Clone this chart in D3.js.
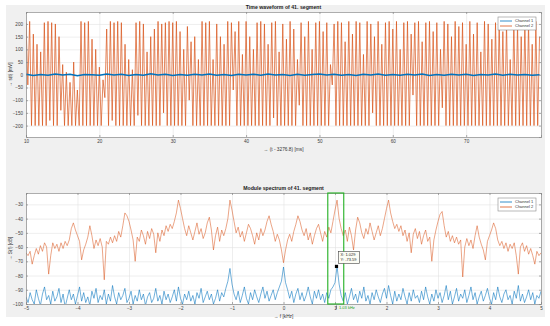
<!DOCTYPE html>
<html>
<head>
<meta charset="utf-8">
<script src="https://cdn.jsdelivr.net/npm/d3@7"></script>
<style>
body { margin: 0; background: #fff; }
svg text { font-family: "Liberation Sans", "DejaVu Sans", Arial, sans-serif; }
</style>
</head>
<body>
<svg id="chart" width="550" height="326"></svg>
<script>
// ---- data ----
const seriesNames = ["Channel 1", "Channel 2"];

// time waveform, sampled every timeStep ms starting at timeStart
const timeStart = 10;
const timeStep = 0.25;
const waveCh2 = [
    205, -40, 210, -200, 160, -200, 120, -200, 90, -200,
    205, -200, 210, -180, 205, -200, 200, -200, 150, -140,
    40, -200, 10, -200, -30, -200, 50, -200, -60, -200,
    210, -200, 205, -200, 210, -200, 140, -200, 100, -200,
    30, -200, -20, -90, 180, -200, 210, -180, 205, -200,
    210, -200, 205, -200, 120, -200, 60, -200, 20, -200,
    205, -160, 210, -200, 200, -200, 90, -200, 150, -200,
    180, -200, 210, -200, 200, -150, 205, -200, 210, -200,
    205, -200, 210, -200, 170, -200, 100, -200, 190, -100,
    130, -200, 150, -200, 60, -200, 210, -200, 205, -200,
    210, -200, 60, -200, 200, -200, 150, -200, 120, -200,
    210, -200, 205, -60, 170, -200, 210, -200, 80, -200,
    210, -200, 150, -200, 100, -200, 205, -200, 210, -200,
    200, -200, 120, -200, 205, -170, 210, -200, 90, -200,
    200, -200, 140, -200, 210, -200, 180, -200, 60, -120,
    205, -200, 150, -200, 210, -200, 100, -200, 205, -200,
    210, -200, 170, -200, 205, -200, 40, -40, 200, -200,
    210, -200, 205, -200, 130, -200, 210, -200, 160, -200,
    210, -200, 205, -200, 80, -200, 210, -200, 200, -150,
    150, -200, 210, -200, 120, -200, 205, -200, 210, -200,
    180, -200, 210, -200, 100, -200, 205, -200, 210, -200,
    160, -80, 205, -200, 210, -200, 130, -200, 205, -200,
    210, -200, 170, -200, 205, -200, 100, -130, 210, -200,
    200, -200, 150, -200, 210, -200, 190, -200, 205, -200,
    120, -200, 210, -200, 160, -200, 205, -200, 90, -200,
    210, -200, 200, -200, 140, -200, 205, -200, 210, -200,
    170, -200, 205, -200, 60, -200, 210, -200, 200, -200,
    150, -200, 210, -200, 205, -200, 120, -200, 210, -200,
    150
];
const wave1Start = 10;
const wave1Step = 1;
const waveCh1 = [
    2, -3, 1, -2, 3, -1, 2, -4, 1, 0,
    -2, 3, -1, 2, -3, 1, -2, 4, -1, 2,
    -3, 1, -2, 2, -1, 3, -2, 1, -3, 2,
    -1, 2, -2, 3, -1, 1, -3, 2, -2, 1,
    3, -1, 2, -2, 1, -3, 2, -1, 3, -2,
    1, -2, 2, -1, 3, -3, 1, -2, 2, -1,
    2, -3, 1, -1, 3, -2, 2, -1, 1, -2,
    0
];
const timeTicks = [10, 20, 30, 40, 50, 60, 70];
const ampTicks = [-200, -150, -100, -50, 0, 50, 100, 150, 200];

// spectrum, one value every freqStep kHz from freqStart
const freqStart = -5;
const freqStep = 0.04;
const specCh2 = [
    -64, -66, -63, -72, -66, -61, -65, -59, -63, -57,
    -60, -79, -66, -57, -61, -58, -63, -57, -61, -56,
    -59, -55, -47, -43, -48, -52, -56, -69, -62, -58,
    -53, -45, -52, -61, -55, -59, -54, -60, -83, -56,
    -58, -53, -57, -52, -56, -49, -53, -45, -36, -38,
    -42, -48, -55, -70, -53, -56, -48, -52, -58, -49,
    -54, -47, -51, -64, -50, -56, -48, -52, -45, -49,
    -44, -47, -42, -36, -27, -33, -40, -47, -52, -45,
    -50, -55, -49, -43, -51, -47, -54, -50, -43, -39,
    -48, -62, -52, -46, -56, -48, -52, -47, -40, -27,
    -34, -42, -50, -46, -53, -49, -56, -50, -44, -47,
    -52, -58, -50, -55, -47, -52, -48, -42, -38, -44,
    -49, -56, -51, -55, -62,
    -71,
    -62, -55, -51, -56, -49, -44, -38, -42, -48, -52,
    -47, -55, -50, -58, -52, -47, -44, -50, -56, -49,
    -53, -46, -50, -42, -34, -27, -40, -47, -52, -48,
    -56, -46, -52, -62, -48, -39, -43, -50, -54, -47,
    -51, -43, -49, -55, -50, -45, -52, -47, -40, -33,
    -27, -36, -42, -47, -44, -49, -45, -52, -48, -56,
    -50, -64, -51, -47, -54, -49, -58, -52, -48, -56,
    -53, -70, -55, -48, -42, -37, -35, -45, -53, -49,
    -56, -52, -57, -53, -58, -55, -81, -60, -54, -59,
    -55, -61, -52, -45, -53, -58, -62, -69, -56, -52,
    -48, -43, -47, -55, -59, -56, -61, -57, -63, -58,
    -61, -57, -66, -79, -60, -57, -63, -59, -65, -61,
    -66, -72, -63, -66, -64
];
const specCh1 = [
    -95, -99, -92, -97, -100, -90, -96, -101, -93, -88,
    -97, -94, -100, -91, -98, -95, -89, -99, -93, -102,
    -96, -90, -97, -93, -100, -94, -88, -98, -92, -99,
    -95, -101, -91, -96, -89, -99, -94, -97, -90, -100,
    -93, -98, -87, -95, -100, -92, -97, -94, -89, -99,
    -96, -91, -100, -94, -98, -90, -97, -93, -101, -95,
    -92, -99, -96, -89, -98, -94, -100, -91, -97, -93,
    -99, -95, -90, -98, -88, -96, -100, -93, -97, -91,
    -98, -94, -100, -92, -96, -89, -99, -95, -91, -97,
    -93, -100, -96, -90, -98, -92, -95, -89, -84, -75,
    -86, -93, -97, -91, -99, -94, -88, -96, -100, -92,
    -97, -90, -95, -99, -93, -88, -96, -91, -98, -94,
    -90, -97, -92, -88, -84,
    -74,
    -85, -90, -96, -91, -99, -93, -89, -97, -92,
    -98, -94, -88, -95, -100, -91, -96, -90, -97, -93,
    -99, -92, -96, -90, -88, -85,
    -73.6,
    -86, -94, -98, -92, -100, -95, -89, -97, -93,
    -99, -91, -96, -88, -98, -94, -100, -92, -97, -90,
    -95, -99, -93, -89, -96, -87, -94, -100, -91, -98,
    -93, -97, -89, -95, -100, -92, -98, -90, -96, -94,
    -99, -91, -97, -88, -95, -100, -93, -98, -90, -96,
    -92, -99, -94, -87, -97, -91, -100, -95, -89, -98,
    -93, -96, -90, -99, -94, -88, -97, -92, -100, -95,
    -91, -98, -94, -89, -96, -100, -92, -97, -88, -95,
    -99, -93, -90, -97, -94, -100, -91, -96, -87, -98,
    -93, -99, -95, -90, -97, -92, -100, -94, -96, -91
];
const freqTicks = [-5, -4, -3, -2, -1, 0, 1, 2, 3, 4, 5];
const dbTicks = [-100, -90, -80, -70, -60, -50, -40, -30];

// data tip and marked band on the spectrum
const tipX = 1.029;
const tipY = -73.59;
const bandFreq = [0.86, 1.17];
const bandLabel = "1.03 kHz";

// ---- drawing ----
const blue = "#0072BD";
const orange = "#D95319";
const svg = d3.select("#chart");

svg.append("rect")
    .attr("x", 6).attr("y", 5)
    .attr("width", 539).attr("height", 312)
    .attr("fill", "#f0f0f0");

function makePanel(box, xDomain, yDomain, xTicks, yTicks, clipId) {
    const width = box.right - box.left,
        height = box.bottom - box.top;
    const g = svg.append("g").attr("transform", `translate(${box.left},${box.top})`);
    const x = d3.scaleLinear().domain(xDomain).range([0, width]);
    const y = d3.scaleLinear().domain(yDomain).range([height, 0]);

    g.append("rect").attr("width", width).attr("height", height).attr("fill", "#fff");

    g.append("g")
        .attr("transform", `translate(0,${height})`)
        .call(d3.axisBottom(x).tickValues(xTicks).tickSize(-height).tickFormat(""))
        .call(s => s.select(".domain").remove())
        .call(s => s.selectAll("line").attr("stroke", "#e2e2e2").attr("stroke-width", 0.6));
    g.append("g")
        .call(d3.axisLeft(y).tickValues(yTicks).tickSize(-width).tickFormat(""))
        .call(s => s.select(".domain").remove())
        .call(s => s.selectAll("line").attr("stroke", "#e2e2e2").attr("stroke-width", 0.6));

    g.append("clipPath").attr("id", clipId)
        .append("rect").attr("width", width).attr("height", height);
    const plot = g.append("g").attr("clip-path", `url(#${clipId})`);

    return { g, x, y, width, height, plot, xTicks, yTicks };
}

function finishAxes(p, title, xLabel, yLabel) {
    const styleTicks = s => {
        s.selectAll("text")
            .style("fill", "#404040")
            .style("font-size", "4.6px");
        s.selectAll("path, line").attr("stroke", "#8a8a8a").attr("stroke-width", 0.7);
    };
    p.g.append("g")
        .attr("transform", `translate(0,${p.height})`)
        .call(d3.axisBottom(p.x).tickValues(p.xTicks).tickSize(-2).tickPadding(3))
        .call(styleTicks);
    p.g.append("g")
        .call(d3.axisLeft(p.y).tickValues(p.yTicks).tickSize(-2).tickPadding(3))
        .call(styleTicks);
    p.g.append("g")
        .call(d3.axisTop(p.x).tickValues(p.xTicks).tickSize(-2).tickFormat(""))
        .call(styleTicks);
    p.g.append("g")
        .attr("transform", `translate(${p.width},0)`)
        .call(d3.axisRight(p.y).tickValues(p.yTicks).tickSize(-2).tickFormat(""))
        .call(styleTicks);

    p.g.append("text")
        .attr("x", p.width / 2)
        .attr("y", -3)
        .attr("text-anchor", "middle")
        .style("font-size", "5.2px")
        .style("font-weight", "bold")
        .style("fill", "#1a1a1a")
        .text(title);

    p.g.append("text")
        .attr("x", p.width / 2)
        .attr("y", p.height + 14)
        .attr("text-anchor", "middle")
        .style("font-size", "4.8px")
        .style("fill", "#333")
        .text(xLabel);

    p.g.append("text")
        .attr("transform", "rotate(-90)")
        .attr("x", -p.height / 2)
        .attr("y", -14)
        .attr("text-anchor", "middle")
        .style("font-size", "4.8px")
        .style("fill", "#333")
        .text(yLabel);
}

function addLegend(p, colors) {
    const lg = p.g.append("g").attr("transform", `translate(${p.width - 43},5)`);
    lg.append("rect")
        .attr("width", 38).attr("height", 13)
        .attr("fill", "#fff")
        .attr("stroke", "#8a8a8a").attr("stroke-width", 0.6);
    seriesNames.forEach((name, i) => {
        const yy = 4 + i * 5;
        lg.append("line")
            .attr("x1", 2).attr("x2", 14)
            .attr("y1", yy).attr("y2", yy)
            .attr("stroke", colors[i]).attr("stroke-width", 0.8);
        lg.append("text")
            .attr("x", 17).attr("y", yy + 1.4)
            .style("font-size", "4px")
            .style("fill", "#333")
            .text(name);
    });
}

// top: time waveform
const wavePanel = makePanel({ left: 26, right: 541, top: 12, bottom: 137 },
    [10, 80.2], [-245, 247], timeTicks, ampTicks, "clipTop");

const waveLine2 = d3.line()
    .x((d, i) => wavePanel.x(timeStart + i * timeStep))
    .y(d => wavePanel.y(d));
const waveLine1 = d3.line()
    .x((d, i) => wavePanel.x(wave1Start + i * wave1Step))
    .y(d => wavePanel.y(d));

wavePanel.plot.append("path")
    .datum(waveCh2)
    .attr("fill", "none")
    .attr("stroke", orange)
    .attr("stroke-width", 0.7)
    .attr("d", waveLine2);

wavePanel.plot.append("path")
    .datum(waveCh1)
    .attr("fill", "none")
    .attr("stroke", blue)
    .attr("stroke-width", 1.5)
    .attr("d", waveLine1);

finishAxes(wavePanel, "Time waveform of 41. segment", "\u2192 (t - 3276.8) [ms]", "\u2192 s(t) [mV]");
addLegend(wavePanel, [blue, orange]);

// bottom: module spectrum
const specPanel = makePanel({ left: 26, right: 541, top: 193, bottom: 304 },
    [-5, 5], [-100, -22], freqTicks, dbTicks, "clipBot");

const specLine = d3.line()
    .x((d, i) => specPanel.x(freqStart + i * freqStep))
    .y(d => specPanel.y(d));

specPanel.plot.append("path")
    .datum(specCh2)
    .attr("fill", "none")
    .attr("stroke", orange)
    .attr("stroke-opacity", 0.75)
    .attr("stroke-width", 0.7)
    .attr("d", specLine);

specPanel.plot.append("path")
    .datum(specCh1)
    .attr("fill", "none")
    .attr("stroke", blue)
    .attr("stroke-opacity", 0.8)
    .attr("stroke-width", 0.7)
    .attr("d", specLine);

finishAxes(specPanel, "Module spectrum of 41. segment", "\u2192 f [kHz]", "\u2192 S(f) [dB]");
addLegend(specPanel, [blue, orange]);

// green band around the fundamental
specPanel.g.append("rect")
    .attr("x", specPanel.x(bandFreq[0]))
    .attr("y", 0)
    .attr("width", specPanel.x(bandFreq[1]) - specPanel.x(bandFreq[0]))
    .attr("height", specPanel.height)
    .attr("fill", "none")
    .attr("stroke", "#22b022")
    .attr("stroke-width", 1.1);

specPanel.g.append("line")
    .attr("x1", specPanel.x(tipX)).attr("x2", specPanel.x(tipX))
    .attr("y1", specPanel.height + 1.5).attr("y2", specPanel.height + 5)
    .attr("stroke", "#333").attr("stroke-width", 0.6);

specPanel.g.append("text")
    .attr("x", specPanel.x(tipX) + 2.5)
    .attr("y", specPanel.height + 5)
    .style("font-size", "4px")
    .style("fill", "#22a022")
    .text(bandLabel);

// data tip
const tx = specPanel.x(tipX), ty = specPanel.y(tipY);
specPanel.g.append("rect")
    .attr("x", tx - 1.6).attr("y", ty - 1.6)
    .attr("width", 3.2).attr("height", 3.2)
    .attr("fill", "#000");
const tip = specPanel.g.append("g").attr("transform", `translate(${tx + 2},${ty - 15})`);
tip.append("rect")
    .attr("width", 21).attr("height", 12)
    .attr("fill", "#fcfcf4")
    .attr("stroke", "#444").attr("stroke-width", 0.6);
tip.append("text")
    .attr("x", 2).attr("y", 5)
    .style("font-size", "4px").style("fill", "#222")
    .text("X: " + tipX);
tip.append("text")
    .attr("x", 2).attr("y", 10)
    .style("font-size", "4px").style("fill", "#222")
    .text("Y: " + tipY);
</script>
</body>
</html>
